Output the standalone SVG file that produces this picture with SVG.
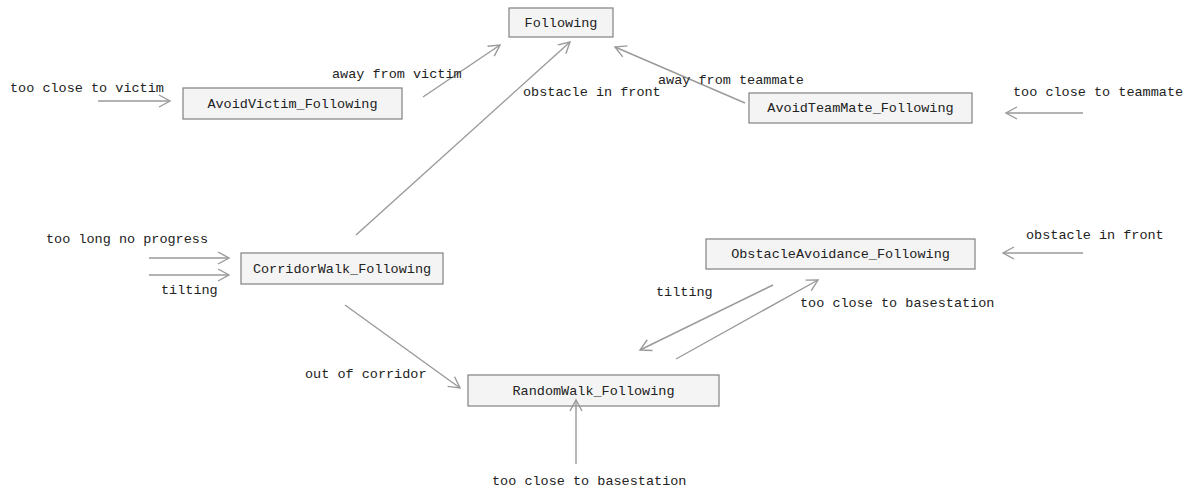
<svg xmlns="http://www.w3.org/2000/svg" width="1189" height="491" viewBox="0 0 1189 491">
<style>
.node rect{fill:#f4f4f4;stroke:#808080;stroke-width:1.2}
text{font-family:"Liberation Mono","Courier New",monospace;font-size:13.5px;fill:#222}
.node text{text-anchor:middle}
.edge line{stroke:#9a9a9a;stroke-width:1.4;fill:none;marker-end:url(#arr)}
</style>
<defs>
<marker id="arr" markerUnits="userSpaceOnUse" markerWidth="16" markerHeight="16" viewBox="0 0 16 16" refX="13" refY="8" orient="auto">
<path d="M2,2 L13,8 L2,14" fill="none" stroke="#9a9a9a" stroke-width="1.4"/>
</marker>
</defs>
<rect width="1189" height="491" fill="#fff"/>
<g id="Following" class="node"><rect x="509" y="8" width="104" height="29"/><text x="561" y="27">Following</text></g>
<g id="AvoidVictim_Following" class="node"><rect x="183" y="88" width="219" height="31"/><text x="292.5" y="108">AvoidVictim_Following</text></g>
<g id="AvoidTeamMate_Following" class="node"><rect x="749" y="93" width="223" height="30"/><text x="860.5" y="112">AvoidTeamMate_Following</text></g>
<g id="CorridorWalk_Following" class="node"><rect x="241" y="253" width="202" height="31"/><text x="342" y="273">CorridorWalk_Following</text></g>
<g id="ObstacleAvoidance_Following" class="node"><rect x="706" y="239" width="269" height="30"/><text x="840.5" y="258">ObstacleAvoidance_Following</text></g>
<g id="RandomWalk_Following" class="node"><rect x="468" y="375" width="251" height="31"/><text x="593.5" y="395">RandomWalk_Following</text></g>
<g id="connectors" class="edge">
<line x1="98" y1="101" x2="170" y2="101"/>
<line x1="423" y1="97" x2="500" y2="45"/>
<line x1="356" y1="235" x2="570" y2="42"/>
<line x1="745" y1="103" x2="615" y2="47"/>
<line x1="1083" y1="113" x2="1006" y2="113"/>
<line x1="149" y1="258" x2="229" y2="258"/>
<line x1="149" y1="275" x2="229" y2="275"/>
<line x1="345" y1="305" x2="460" y2="388"/>
<line x1="773" y1="285" x2="640" y2="350"/>
<line x1="676" y1="359" x2="818" y2="280"/>
<line x1="1083" y1="253" x2="1003" y2="253"/>
<line x1="576" y1="464" x2="576" y2="400"/>
</g>
<g id="labels">
<text x="10" y="92">too close to victim</text>
<text x="332" y="78">away from victim</text>
<text x="523" y="96">obstacle in front</text>
<text x="658" y="84">away from teammate</text>
<text x="1013" y="96">too close to teammate</text>
<text x="46" y="243">too long no progress</text>
<text x="161" y="294">tilting</text>
<text x="305" y="378">out of corridor</text>
<text x="656" y="296">tilting</text>
<text x="800" y="307">too close to basestation</text>
<text x="1026" y="239">obstacle in front</text>
<text x="492" y="485">too close to basestation</text>
</g>
</svg>
